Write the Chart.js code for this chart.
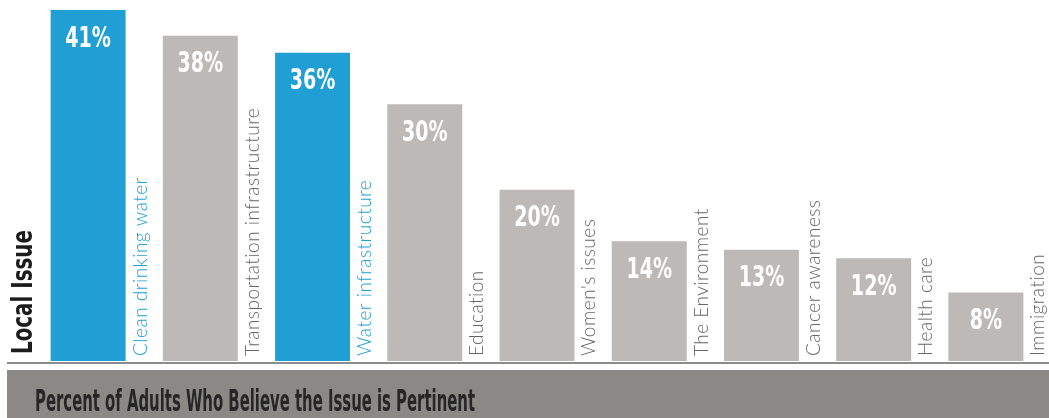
<!DOCTYPE html>
<html>
<head>
<meta charset="utf-8">
<title>Local Issue</title>
<script src="https://cdn.jsdelivr.net/npm/chart.js@4.4.0/dist/chart.umd.min.js"></script>
<style>
  html, body { margin: 0; padding: 0; background: #fff; }
  #wrap { width: 1049px; height: 418px; position: relative; }
</style>
</head>
<body>
<div id="wrap"><canvas id="issueChart" width="1049" height="418"></canvas></div>
<script>
// ---------- Data ----------
const issues = [
  "Clean drinking water", "Transportation infrastructure", "Water infrastructure",
  "Education", "Women's issues", "The Environment",
  "Cancer awareness", "Health care", "Immigration"
];
const percents = [41, 38, 36, 30, 20, 14, 13, 12, 8];
const highlighted = [true, false, true, false, false, false, false, false, false];

const BLUE = "#1f9fd3";
const GREY = "#bdb9b6";
const LABEL_GREY = "#666666";
const NARROW = "'Liberation Sans Narrow', 'DejaVu Sans Condensed', sans-serif";

// ---------- Overlay plugin: labels, axis title, footer band ----------
const overlay = {
  id: "overlay",
  beforeDraw(chart) {
    const ctx = chart.ctx;
    ctx.save();
    ctx.fillStyle = "#fff";
    ctx.fillRect(0, 0, chart.width, chart.height);
    ctx.restore();
  },
  afterDatasetsDraw(chart) {
    const ctx = chart.ctx;
    const meta = chart.getDatasetMeta(0);
    const area = chart.chartArea;
    ctx.save();

    meta.data.forEach((bar, i) => {
      const half = bar.width / 2;
      // value inside the bar (squeezed to look condensed)
      const txt = percents[i] + "%";
      ctx.fillStyle = "#fff";
      ctx.font = "bold 29px " + NARROW;
      ctx.textAlign = "center";
      ctx.textBaseline = "middle";
      ctx.fillText(txt, bar.x, bar.y + 29, ctx.measureText(txt).width * 0.73);

      // issue name, rotated, right of the bar
      ctx.save();
      ctx.translate(bar.x + half + 21, area.bottom - 5);
      ctx.rotate(-Math.PI / 2);
      ctx.font = "300 19px Lato, 'Open Sans', sans-serif";
      ctx.letterSpacing = "0.5px";
      ctx.fillStyle = highlighted[i] ? BLUE : LABEL_GREY;
      ctx.textAlign = "left";
      ctx.textBaseline = "alphabetic";
      ctx.fillText(issues[i], 0, 0);
      ctx.restore();
    });
    ctx.letterSpacing = "0px";

    // y axis title
    ctx.save();
    ctx.translate(32, area.bottom - 7);
    ctx.rotate(-Math.PI / 2);
    ctx.font = "bold 28px " + NARROW;
    ctx.fillStyle = "#1c1c1c";
    ctx.textAlign = "left";
    ctx.textBaseline = "alphabetic";
    ctx.fillText("Local Issue", 0, 0, 124);
    ctx.restore();

    // baseline + footer band
    ctx.fillStyle = "#8c8c8a";
    ctx.fillRect(7, area.bottom + 1, chart.width - 7, 2);
    ctx.fillStyle = "#8a8985";
    ctx.fillRect(7, 370, chart.width - 7, chart.height - 370);
    ctx.font = "bold 31px " + NARROW;
    ctx.fillStyle = "#262626";
    ctx.textAlign = "left";
    ctx.textBaseline = "alphabetic";
    ctx.fillText("Percent of Adults Who Believe the Issue is Pertinent", 35, 411, 440);

    ctx.restore();
  }
};

new Chart(document.getElementById("issueChart"), {
  type: "bar",
  data: {
    labels: issues,
    datasets: [{
      data: percents,
      backgroundColor: highlighted.map(h => h ? BLUE : GREY),
      borderWidth: 0,
      categoryPercentage: 1,
      barPercentage: 0.668
    }]
  },
  options: {
    responsive: false,
    animation: false,
    layout: { padding: { left: 32, right: 7, top: 10, bottom: 57 } },
    plugins: { legend: { display: false }, tooltip: { enabled: false } },
    scales: {
      x: { display: false },
      y: { display: false, min: 0, max: 41 }
    }
  },
  plugins: [overlay]
});
</script>
</body>
</html>
